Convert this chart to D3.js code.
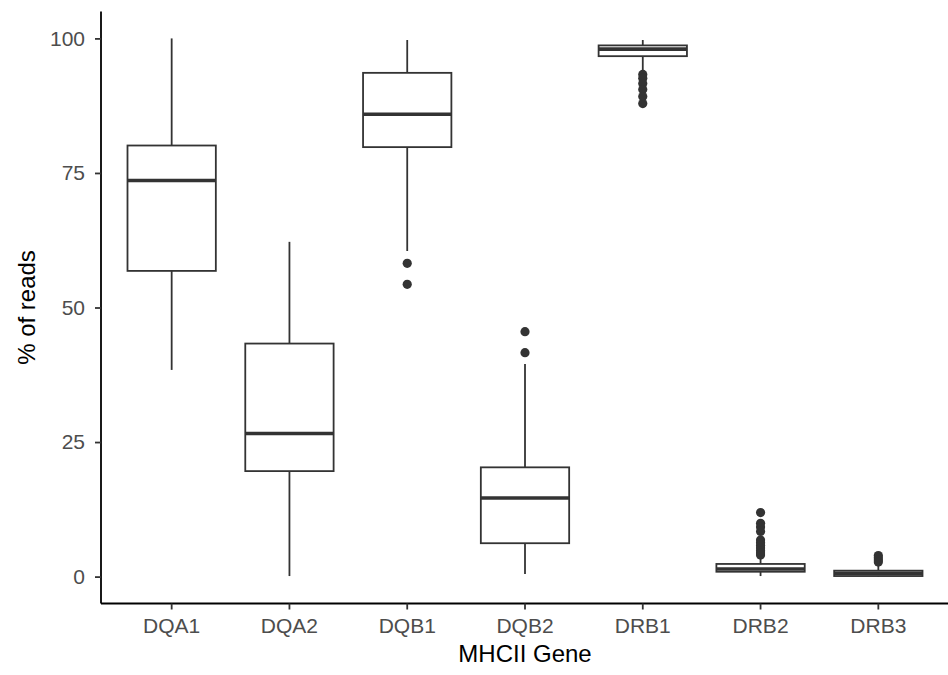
<!DOCTYPE html>
<html>
<head>
<meta charset="utf-8">
<script src="https://cdn.jsdelivr.net/npm/d3@7"></script>
<style>
  body { margin: 0; background: #fff; }
  text { font-family: "Liberation Sans", Arial, sans-serif; }
</style>
</head>
<body>
<div id="chart"></div>
<script>
var genes = ["DQA1", "DQA2", "DQB1", "DQB2", "DRB1", "DRB2", "DRB3"];
var lowerWhisker = [38.4, 0.1, 60.5, 0.5, 94.1, 0.1, 0.0];
var q1 = [56.8, 19.6, 79.8, 6.2, 96.7, 0.9, 0.1];
var median = [73.6, 26.6, 85.9, 14.6, 98.0, 1.4, 0.6];
var q3 = [80.1, 43.3, 93.6, 20.3, 98.7, 2.35, 1.1];
var upperWhisker = [100, 62.2, 99.7, 39.5, 99.7, 3.5, 2.0];
var outliers = [
    [],
    [],
    [58.2, 54.3],
    [45.5, 41.6],
    [93.3, 92.6, 91.6, 90.5, 89.2, 87.9],
    [11.9, 9.9, 9.2, 8.4, 6.8, 6.3, 5.8, 5.3, 4.8, 4.4, 4.0],
    [3.9, 3.5, 3.1, 2.7]
];
var yTicks = [0, 25, 50, 75, 100];

var width = 948,
    height = 675,
    plotLeft = 101,
    plotRight = 949,
    plotTop = 11.5,
    plotBottom = 603.5;

var svg = d3.select("#chart")
    .append("svg")
    .attr("width", width)
    .attr("height", height);

var x = d3.scaleBand()
    .domain(genes)
    .range([plotLeft, plotRight])
    .paddingInner(0)
    .paddingOuter(0.1);

var y = d3.scaleLinear().domain([-5, 105]).range([plotBottom, plotTop]);

var boxW = x.bandwidth() * 0.75;
var col = "#333333";

var data = genes.map(function(g, i) {
    return { gene: g, lo: lowerWhisker[i], q1: q1[i], med: median[i], q3: q3[i], hi: upperWhisker[i], out: outliers[i] };
});

var g = svg.selectAll(".box")
    .data(data)
    .enter().append("g")
    .attr("class", "box")
    .attr("transform", function(d) { return "translate(" + (x(d.gene) + x.bandwidth() / 2) + ",0)"; });

// whiskers
g.append("line")
    .attr("x1", 0).attr("x2", 0)
    .attr("y1", function(d) { return y(d.q3); })
    .attr("y2", function(d) { return y(d.hi); })
    .attr("stroke", col).attr("stroke-width", 1.8);
g.append("line")
    .attr("x1", 0).attr("x2", 0)
    .attr("y1", function(d) { return y(d.q1); })
    .attr("y2", function(d) { return y(d.lo); })
    .attr("stroke", col).attr("stroke-width", 1.8);

g.append("rect")
    .attr("x", -boxW / 2)
    .attr("width", boxW)
    .attr("y", function(d) { return y(d.q3); })
    .attr("height", function(d) { return y(d.q1) - y(d.q3); })
    .attr("fill", "#fff")
    .attr("stroke", col).attr("stroke-width", 1.8);

g.append("line")
    .attr("x1", -boxW / 2).attr("x2", boxW / 2)
    .attr("y1", function(d) { return y(d.med); })
    .attr("y2", function(d) { return y(d.med); })
    .attr("stroke", col).attr("stroke-width", 3.6);

g.selectAll(".out")
    .data(function(d) { return d.out; })
    .enter().append("circle")
    .attr("class", "out")
    .attr("cx", 0)
    .attr("cy", function(d) { return y(d); })
    .attr("r", 4.6)
    .attr("fill", col);

// axes
var xAxis = svg.append("g")
    .attr("transform", "translate(0," + plotBottom + ")")
    .call(d3.axisBottom(x).tickSize(6).tickPadding(9).tickSizeOuter(0));
var yAxis = svg.append("g")
    .attr("transform", "translate(" + plotLeft + ",0)")
    .call(d3.axisLeft(y).tickValues(yTicks).tickSize(6).tickPadding(10).tickSizeOuter(0));

[xAxis, yAxis].forEach(function(a) {
    a.select(".domain").attr("stroke", "#000").attr("stroke-width", 1.8);
    a.selectAll(".tick line").attr("stroke", "#333").attr("stroke-width", 1.8);
    a.selectAll(".tick text").attr("fill", "#4d4d4d").style("font-size", "21px");
});
xAxis.select(".domain").attr("d", "M" + plotLeft + ",0H" + plotRight);
yAxis.select(".domain").attr("d", "M0," + plotBottom + "V" + plotTop);

svg.append("text")
    .attr("x", (plotLeft + plotRight) / 2)
    .attr("y", 662)
    .attr("text-anchor", "middle")
    .style("font-size", "24px")
    .attr("fill", "#000")
    .text("MHCII Gene");

svg.append("text")
    .attr("transform", "translate(35," + (plotTop + plotBottom) / 2 + ") rotate(-90)")
    .attr("text-anchor", "middle")
    .style("font-size", "24px")
    .attr("fill", "#000")
    .text("% of reads");
</script>
</body>
</html>
